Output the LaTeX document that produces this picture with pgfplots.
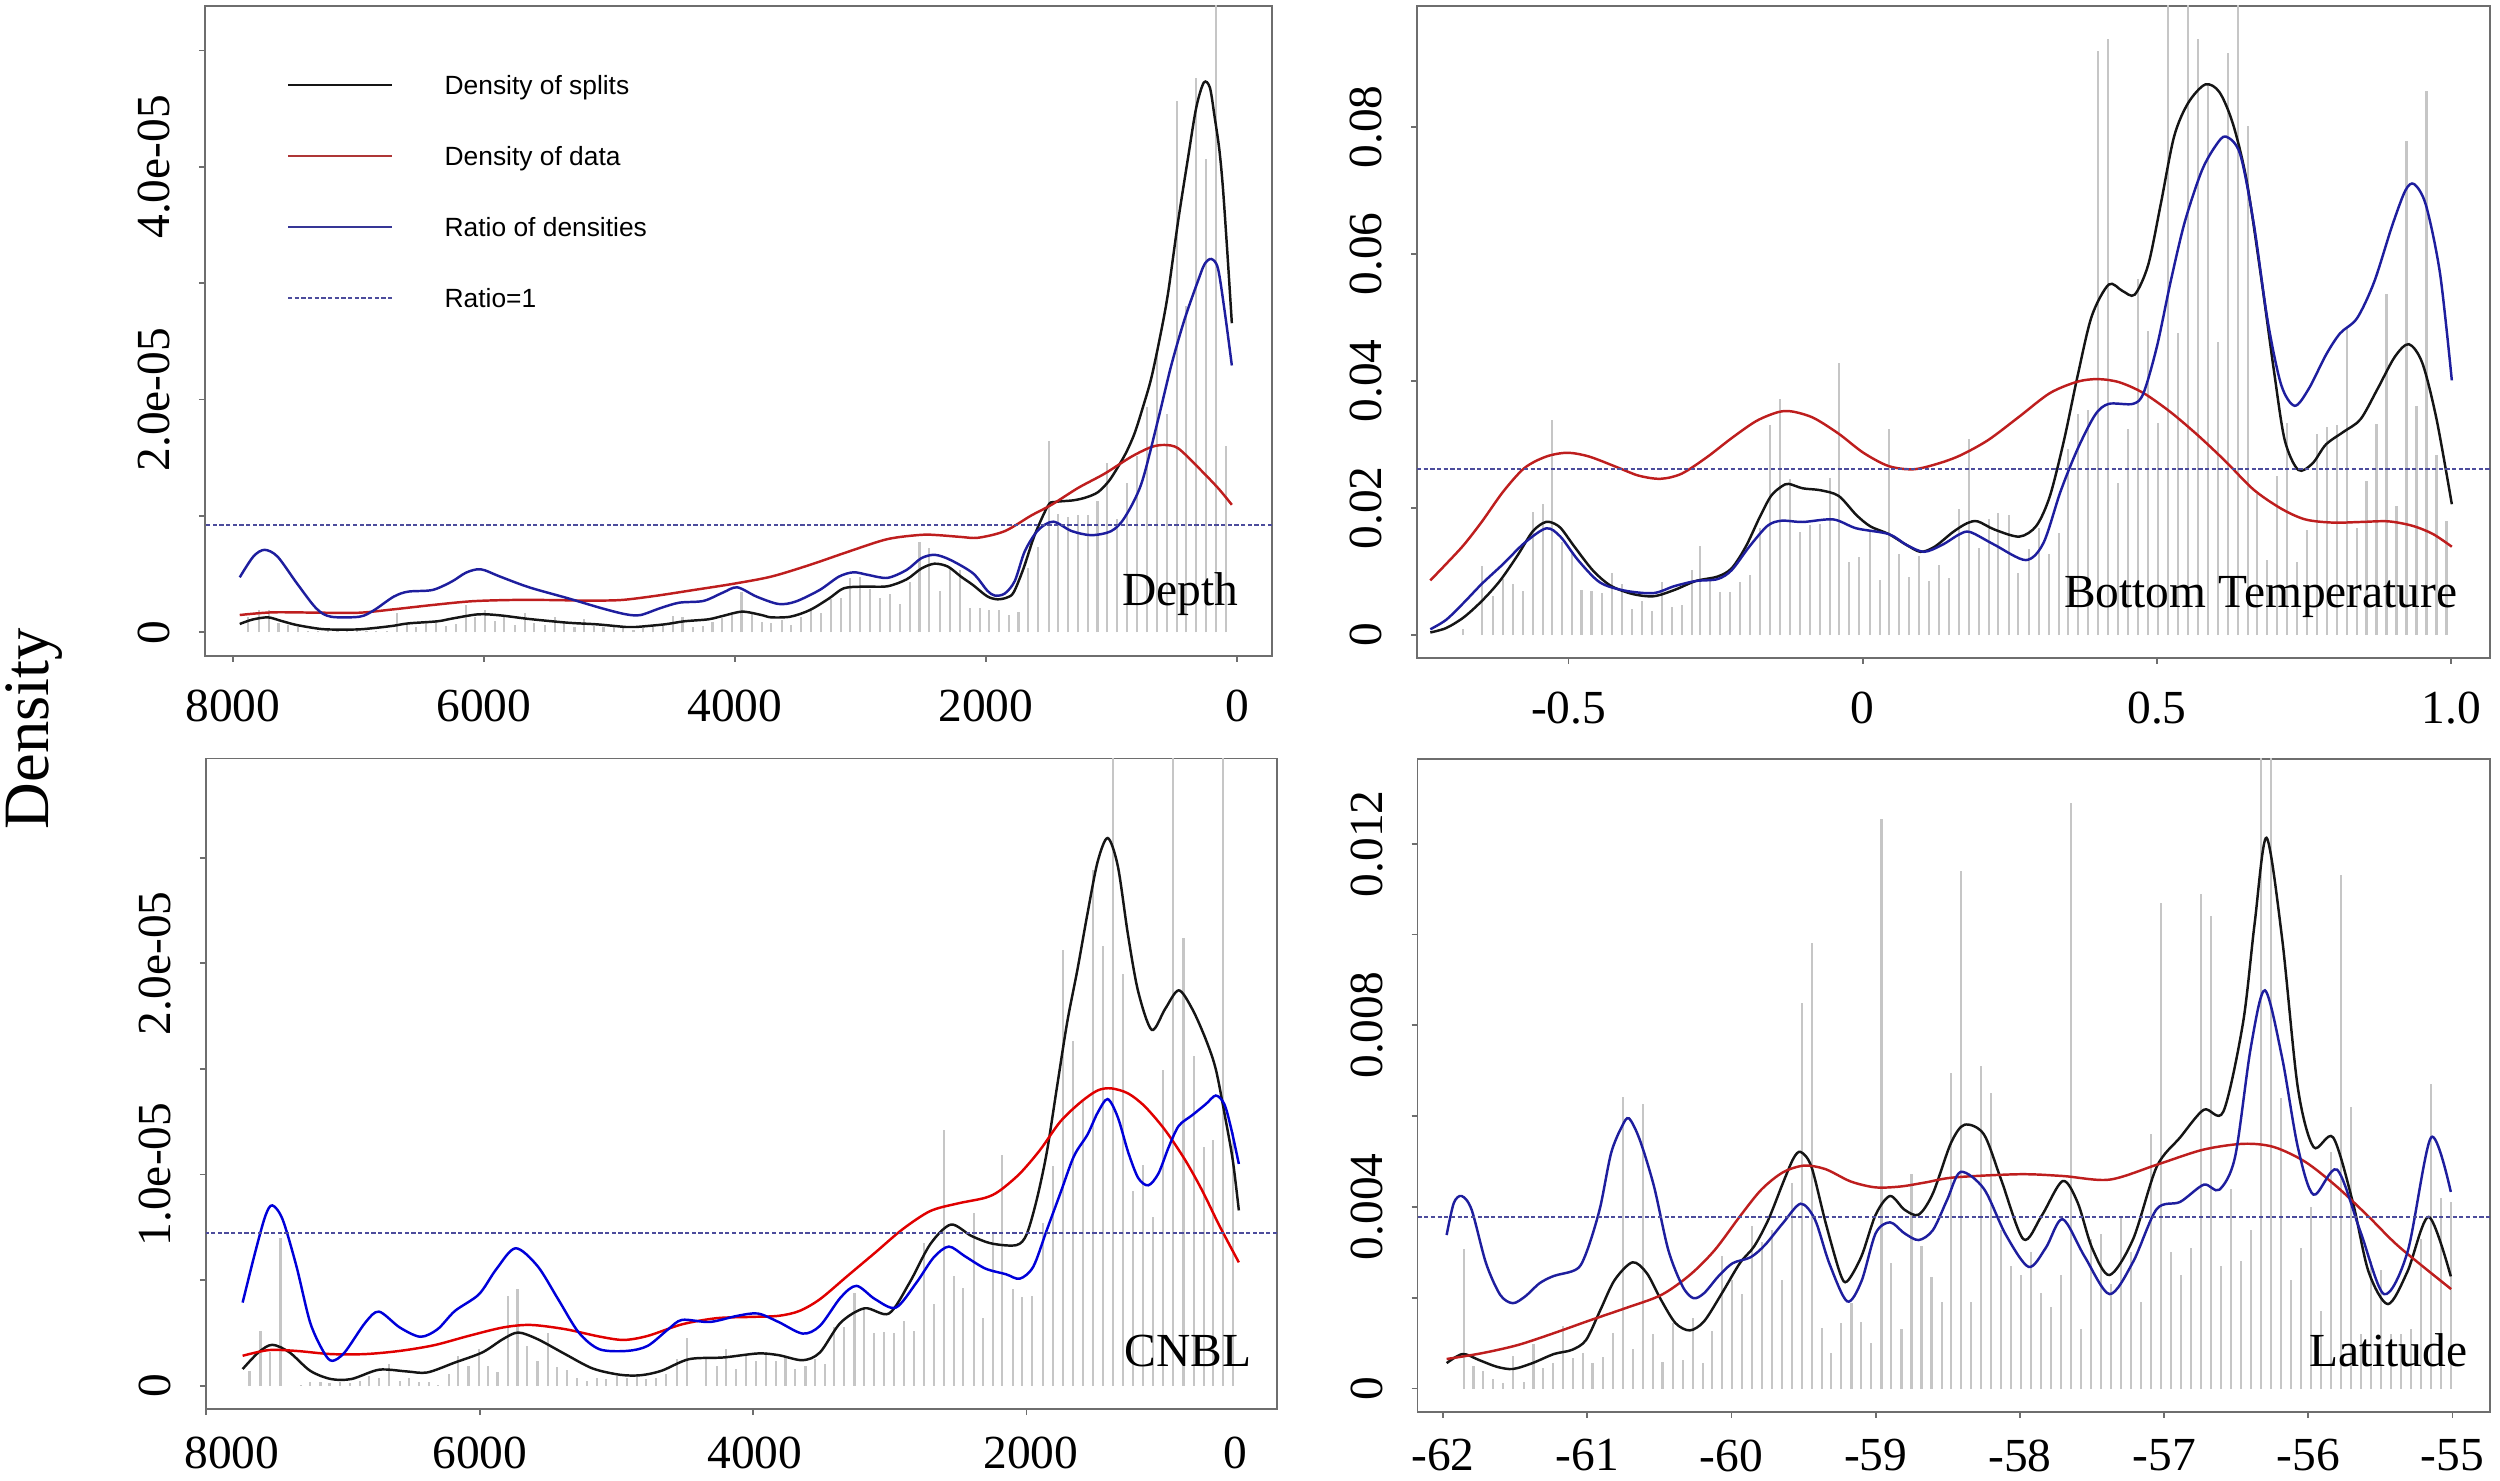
\documentclass[border=0pt]{standalone}
\usepackage{fontspec}
\setmainfont{Liberation Serif}
\newfontfamily\legendfont{Liberation Sans}
\usepackage{pgfplots}
\pgfplotsset{compat=1.18}

\definecolor{cblack}{HTML}{151515}
\definecolor{cred}{HTML}{BE1E1E}
\definecolor{cblue}{HTML}{1E1E9E}
\definecolor{cdash}{HTML}{4C4C9C}
\definecolor{lgray}{HTML}{C6C6C6}
\definecolor{boxgray}{HTML}{6E6E6E}

\pgfplotsset{
  dpanel/.style={
    scale only axis, anchor=south west,
    axis line style={draw=boxgray, line width=0.5pt},
    tick style={draw=boxgray, line width=0.5pt},
    tick align=outside, major tick length=0.6mm,
    xtick pos=bottom, ytick pos=left,
    ticklabel style={font=\fontsize{13.5}{16}\selectfont, inner sep=0pt},
    xticklabel shift=2.7mm,
    yticklabel style={rotate=90, anchor=south},
    yticklabel shift=2.8mm,
    scaled ticks=false,
  },
  lowrow/.style={xticklabel shift=2.1mm},
  grayh/.style={ycomb, draw=lgray, line width=0.6pt, mark=none, forget plot},
  kblack/.style={cblack, line width=0.7pt, smooth, mark=none},
  kred/.style={cred, line width=0.7pt, smooth, mark=none},
  kblue/.style={cblue, line width=0.7pt, smooth, mark=none},
  kdash/.style={cdash, line width=0.6pt, dash pattern=on 1.2pt off 0.7pt, mark=none},
}

\begin{document}
\begin{tikzpicture}
\path[use as bounding box] (0,0) rectangle (250mm,148mm);

% ---------------- Depth ----------------
\begin{axis}[dpanel, at={(20.5mm,82.4mm)}, width=106.7mm, height=65.03mm,
  x dir=reverse, xmin=-280, xmax=8223, ymin=-0.203, ymax=5.384,
  xtick={0,2000,4000,6000,8000}, xticklabels={0,2000,4000,6000,8000},
  ytick={0,1,2,3,4,5}, yticklabels={0,,2.0e-05,,4.0e-05,}]
\addplot[grayh] coordinates {
(7877,0.129)(7792,0.193)(7715,0.193)(7637,0.077)(7560,0.063)(7480,0.049)(7400,0.01)(7321,0.014)
(7244,0.02)(7167,0.026)(7090,0.014)(7013,0.02)(6936,0.014)(6859,0.014)(6774,0.014)(6693,0.163)
(6616,0.077)(6539,0.049)(6462,0.083)(6385,0.092)(6300,0.054)(6222,0.072)(6145,0.235)(6068,0.135)
(5991,0.192)(5914,0.101)(5837,0.135)(5752,0.063)(5675,0.169)(5598,0.083)(5513,0.063)(5436,0.129)
(5359,0.083)(5278,0.049)(5201,0.112)(5124,0.054)(5047,0.043)(4966,0.043)(4889,0.034)(4808,0.02)
(4730,0.034)(4653,0.049)(4572,0.054)(4495,0.14)(4418,0.129)(4333,0.049)(4256,0.057)(4179,0.092)
(4102,0.121)(4025,0.149)(3948,0.35)(3863,0.163)(3786,0.092)(3709,0.077)(3628,0.106)(3554,0.063)
(3473,0.135)(3396,0.192)(3311,0.163)(3234,0.284)(3157,0.293)(3080,0.465)(3003,0.479)(2926,0.370)
(2841,0.298)(2764,0.327)(2687,0.244)(2606,0.436)(2529,0.78)(2452,0.723)(2369,0.352)(2287,0.55)
(2207,0.534)(2127,0.207)(2048,0.207)(1973,0.189)(1897,0.189)(1817,0.152)(1740,0.171)(1663,0.552)
(1584,0.733)(1499,1.640)(1424,1.016)(1345,0.994)(1265,1.005)(1185,1.005)(1111,1.132)(1032,1.459)
(952,0.97)(875,1.285)(796,1.513)(716,1.938)(637,2.402)(560,1.876)(480,4.561)(403,2.801)
(324,4.76)(244,4.071)(164,6.5)(85,1.604)};
\addplot[kblack] coordinates {
(7946,0.072)(7845,0.11)(7722,0.129)(7620,0.1)(7491,0.063)(7298,0.029)(7150,0.024)(6990,0.026)
(6850,0.04)(6719,0.057)(6604,0.077)(6372,0.095)(6257,0.118)(6045,0.155)(5871,0.146)(5640,0.115)
(5331,0.083)(5100,0.069)(4868,0.046)(4791,0.046)(4560,0.069)(4405,0.095)(4213,0.112)(4097,0.141)
(3942,0.178)(3788,0.149)(3711,0.129)(3557,0.135)(3402,0.192)(3248,0.293)(3132,0.379)(2978,0.393)
(2785,0.396)(2631,0.456)(2515,0.548)(2410,0.59)(2303,0.565)(2200,0.48)(2102,0.406)(1990,0.31)
(1908,0.284)(1830,0.3)(1778,0.345)(1700,0.55)(1610,0.84)(1504,1.09)(1451,1.12)(1300,1.135)
(1200,1.16)(1106,1.205)(1020,1.3)(947,1.422)(880,1.55)(814,1.713)(750,1.93)(682,2.184)
(610,2.55)(549,2.91)(469,3.527)(390,4.071)(324,4.507)(263,4.724)(215,4.68)(178,4.434)
(140,4.15)(111,3.817)(75,3.25)(40,2.656)};
\addplot[kred] coordinates {
(7946,0.149)(7684,0.172)(7298,0.169)(6990,0.169)(6719,0.198)(6411,0.235)(6102,0.267)(5794,0.278)
(5485,0.278)(5177,0.273)(4907,0.278)(4637,0.313)(4328,0.364)(4020,0.416)(3711,0.479)(3402,0.58)
(3094,0.694)(2785,0.801)(2515,0.838)(2379,0.835)(2200,0.82)(2061,0.813)(1849,0.87)(1637,1.005)
(1477,1.096)(1265,1.241)(1053,1.364)(841,1.509)(682,1.592)(576,1.61)(469,1.582)(310,1.419)
(151,1.241)(40,1.096)};
\addplot[kblue] coordinates {
(7946,0.473)(7838,0.651)(7749,0.709)(7645,0.651)(7491,0.422)(7337,0.207)(7221,0.135)(6990,0.135)
(6874,0.192)(6719,0.307)(6604,0.35)(6411,0.364)(6257,0.436)(6141,0.514)(6025,0.542)(5871,0.479)
(5640,0.387)(5331,0.293)(5061,0.207)(4868,0.155)(4752,0.149)(4598,0.207)(4444,0.255)(4251,0.27)
(4097,0.341)(3981,0.387)(3827,0.307)(3653,0.244)(3518,0.264)(3325,0.364)(3171,0.479)(3055,0.516)
(2940,0.494)(2785,0.468)(2631,0.537)(2515,0.637)(2407,0.666)(2284,0.623)(2102,0.507)(1990,0.36)
(1928,0.316)(1849,0.334)(1769,0.443)(1690,0.697)(1584,0.878)(1464,0.951)(1318,0.871)(1159,0.835)
(1000,0.871)(894,0.987)(761,1.277)(629,1.822)(523,2.293)(416,2.692)(310,3.019)(257,3.164)
(204,3.208)(151,3.128)(98,2.765)(40,2.293)};
\addplot[kdash] coordinates {(-280,0.924)(8223,0.924)};
\end{axis}

% ---------------- Bottom Temperature ----------------
\begin{axis}[dpanel, at={(141.7mm,82.2mm)}, width=107.3mm, height=65.2mm,
  xmin=-0.7576, xmax=1.0659, ymin=-0.00362, ymax=0.09906,
  xtick={-0.5,0,0.5,1}, xticklabels={-0.5,0,0.5,1.0},
  ytick={0,0.02,0.04,0.06,0.08}, yticklabels={0,0.02,0.04,0.06,0.08}]
\addplot[grayh] coordinates {
(-0.679,0.0009)(-0.647,0.0108)(-0.629,0.0061)(-0.612,0.0088)(-0.595,0.0081)(-0.578,0.0069)(-0.561,0.0194)
(-0.544,0.0206)(-0.528,0.0339)(-0.511,0.0146)(-0.494,0.0132)(-0.478,0.0071)(-0.461,0.0069)(-0.443,0.0066)
(-0.426,0.0098)(-0.410,0.0081)(-0.393,0.0041)(-0.376,0.0054)(-0.359,0.0038)(-0.342,0.0083)(-0.325,0.0044)
(-0.308,0.0048)(-0.291,0.0103)(-0.276,0.014)(-0.259,0.0085)(-0.242,0.0067)(-0.225,0.0068)(-0.208,0.0083)
(-0.191,0.0095)(-0.174,0.0169)(-0.158,0.0331)(-0.141,0.0372)(-0.124,0.0246)(-0.107,0.0163)(-0.090,0.0173)
(-0.073,0.0175)(-0.056,0.0248)(-0.040,0.0429)(-0.023,0.0115)(-0.006,0.0123)(0.012,0.0165)(0.029,0.0087)
(0.045,0.0324)(0.062,0.0127)(0.079,0.0091)(0.095,0.0125)(0.112,0.0085)(0.129,0.011)(0.146,0.009)
(0.163,0.0199)(0.180,0.0309)(0.197,0.0137)(0.214,0.0182)(0.230,0.0192)(0.248,0.0189)(0.264,0.0098)
(0.282,0.0135)(0.300,0.0169)(0.316,0.0128)(0.333,0.0161)(0.349,0.0293)(0.366,0.0348)(0.383,0.0354)
(0.400,0.0920)(0.417,0.0938)(0.434,0.0240)(0.451,0.0324)(0.468,0.0561)(0.485,0.0478)(0.502,0.0334)
(0.519,0.11)(0.536,0.0475)(0.553,0.11)(0.569,0.0938)(0.586,0.0867)(0.603,0.0462)(0.620,0.0916)
(0.637,0.11)(0.654,0.0801)(0.670,0.0222)(0.687,0.0118)(0.704,0.0250)(0.721,0.0334)(0.738,0.0115)
(0.755,0.0165)(0.772,0.0317)(0.789,0.0327)(0.806,0.0330)(0.823,0.0485)(0.840,0.0168)(0.856,0.0242)
(0.873,0.0333)(0.890,0.0537)(0.907,0.0203)(0.924,0.0778)(0.941,0.0360)(0.958,0.0857)(0.975,0.0283)
(0.992,0.018)};
\addplot[kblack] coordinates {
(-0.735,0.0004)(-0.708,0.0011)(-0.678,0.0028)(-0.647,0.0054)(-0.617,0.0085)(-0.587,0.0125)(-0.562,0.0162)
(-0.544,0.0176)(-0.532,0.0178)(-0.514,0.0169)(-0.49,0.0139)(-0.459,0.0102)(-0.429,0.0078)(-0.393,0.0065)
(-0.356,0.0061)(-0.32,0.0071)(-0.284,0.0085)(-0.247,0.0092)(-0.223,0.0105)(-0.199,0.0139)(-0.175,0.0186)
(-0.156,0.0219)(-0.138,0.0234)(-0.126,0.0238)(-0.102,0.0231)(-0.072,0.0228)(-0.041,0.0219)(-0.011,0.0189)
(0.013,0.0171)(0.044,0.0159)(0.074,0.0142)(0.098,0.0131)(0.122,0.0139)(0.153,0.0162)(0.177,0.0176)
(0.195,0.0179)(0.224,0.0166)(0.266,0.0155)(0.295,0.0172)(0.318,0.0219)(0.342,0.0307)(0.365,0.0408)
(0.389,0.0502)(0.418,0.0552)(0.441,0.0542)(0.462,0.0536)(0.485,0.0583)(0.506,0.0677)(0.529,0.0785)
(0.553,0.0838)(0.582,0.0867)(0.606,0.0855)(0.629,0.0805)(0.652,0.0717)(0.676,0.0569)(0.699,0.0414)
(0.717,0.0307)(0.74,0.026)(0.764,0.027)(0.787,0.03)(0.817,0.032)(0.846,0.034)(0.875,0.0388)
(0.904,0.0438)(0.928,0.0458)(0.951,0.0428)(0.975,0.034)(1.001,0.0206)};
\addplot[kred] coordinates {
(-0.735,0.0086)(-0.708,0.0112)(-0.678,0.0142)(-0.647,0.0179)(-0.611,0.0226)(-0.575,0.0263)(-0.538,0.0281)
(-0.502,0.0287)(-0.465,0.0281)(-0.417,0.0264)(-0.381,0.0251)(-0.344,0.0246)(-0.308,0.0254)(-0.265,0.028)
(-0.223,0.031)(-0.181,0.0337)(-0.144,0.0351)(-0.12,0.0352)(-0.084,0.0342)(-0.041,0.0317)(0.001,0.0287)
(0.044,0.0266)(0.086,0.0261)(0.128,0.027)(0.166,0.0283)(0.213,0.0307)(0.266,0.0344)(0.318,0.0381)
(0.365,0.0399)(0.4,0.0403)(0.436,0.0398)(0.477,0.0381)(0.523,0.0351)(0.57,0.0314)(0.617,0.0273)
(0.664,0.0229)(0.711,0.0199)(0.752,0.0182)(0.799,0.0177)(0.846,0.0178)(0.893,0.0179)(0.934,0.0172)
(0.969,0.0159)(1.001,0.0139)};
\addplot[kblue] coordinates {
(-0.735,0.0009)(-0.708,0.0024)(-0.678,0.0051)(-0.647,0.0081)(-0.611,0.0112)(-0.575,0.0145)(-0.538,0.0168)
(-0.514,0.0155)(-0.484,0.0118)(-0.447,0.0083)(-0.405,0.007)(-0.356,0.0066)(-0.32,0.0077)(-0.284,0.0085)
(-0.247,0.0088)(-0.223,0.0102)(-0.193,0.0139)(-0.162,0.0172)(-0.138,0.018)(-0.102,0.0178)(-0.05,0.0182)
(-0.011,0.0168)(0.044,0.0159)(0.074,0.0142)(0.104,0.0131)(0.135,0.0142)(0.165,0.0159)(0.183,0.0162)
(0.224,0.0142)(0.277,0.0118)(0.307,0.0145)(0.336,0.0226)(0.365,0.0293)(0.395,0.0347)(0.418,0.0364)
(0.459,0.0364)(0.477,0.0381)(0.5,0.0455)(0.523,0.0556)(0.547,0.065)(0.576,0.0731)(0.6,0.0771)
(0.617,0.0785)(0.641,0.0758)(0.664,0.065)(0.688,0.0495)(0.711,0.0394)(0.734,0.0361)(0.758,0.0388)
(0.787,0.0441)(0.811,0.0475)(0.84,0.0499)(0.869,0.0556)(0.899,0.0643)(0.922,0.07)(0.937,0.071)
(0.957,0.0677)(0.981,0.0569)(1.001,0.0401)};
\addplot[kdash] coordinates {(-0.7576,0.0262)(1.0659,0.0262)};
\end{axis}

% ---------------- CNBL ----------------
\begin{axis}[dpanel, lowrow, at={(20.6mm,7.1mm)}, width=107.1mm, height=65.04mm,
  x dir=reverse, xmin=169, xmax=8001, ymin=-0.110, ymax=2.969,
  xtick={2000,4000,6000,8000}, xticklabels={,,,},
  extra x ticks={476,1968,3987,5998,7811}, extra x tick labels={0,2000,4000,6000,8000},
  extra x tick style={tick style={draw=none}},
  ytick={0,0.5,1,1.5,2,2.5}, yticklabels={0,,1.0e-05,,2.0e-05,}]
\addplot[grayh] coordinates {
(7683,0.071)(7602,0.260)(7532,0.158)(7456,0.701)(7305,0.003)(7239,0.016)(7164,0.019)(7098,0.011)
(7023,0.016)(6947,0.013)(6877,0.024)(6806,0.047)(6736,0.039)(6660,0.102)(6585,0.024)(6514,0.036)
(6443,0.016)(6368,0.016)(6302,0.003)(6227,0.055)(6156,0.142)(6081,0.095)(6005,0.173)(5940,0.095)
(5869,0.063)(5793,0.425)(5723,0.457)(5652,0.189)(5577,0.118)(5501,0.252)(5436,0.087)(5360,0.076)
(5290,0.039)(5214,0.024)(5144,0.035)(5073,0.032)(4997,0.047)(4922,0.039)(4851,0.055)(4781,0.032)
(4710,0.039)(4635,0.055)(4559,0.126)(4484,0.228)(4343,0.134)(4267,0.095)(4196,0.173)(4126,0.079)
(4050,0.150)(3980,0.118)(3904,0.158)(3834,0.118)(3763,0.142)(3693,0.079)(3617,0.095)(3547,0.126)
(3476,0.102)(3406,0.276)(3335,0.276)(3259,0.441)(3189,0.362)(3113,0.252)(3043,0.255)(2967,0.252)
(2897,0.307)(2821,0.260)(2751,0.677)(2675,0.386)(2605,1.213)(2534,0.520)(2464,0.465)(2388,0.819)
(2318,0.323)(2247,0.725)(2177,1.094)(2101,0.457)(2031,0.418)(1960,0.425)(1881,0.77)(1809,1.04)
(1735,2.065)(1664,1.63)(1590,1.353)(1515,2.44)(1441,2.08)(1370,3.2)(1296,1.947)(1222,0.922)
(1150,1.046)(1076,0.8)(1001,1.497)(927,3.2)(853,2.122)(779,1.562)(705,1.132)(636,1.165)
(562,3.2)(488,1.2)};
\addplot[kblack] coordinates {
(7733,0.079)(7617,0.158)(7516,0.194)(7390,0.158)(7239,0.071)(7088,0.032)(6937,0.032)(6736,0.076)
(6534,0.068)(6383,0.063)(6181,0.11)(5980,0.158)(5829,0.221)(5718,0.252)(5577,0.221)(5375,0.15)
(5174,0.082)(4972,0.052)(4821,0.05)(4670,0.071)(4468,0.126)(4217,0.134)(3965,0.153)(3814,0.145)
(3637,0.121)(3511,0.158)(3360,0.299)(3184,0.367)(3007,0.342)(2856,0.488)(2705,0.67)(2554,0.763)
(2403,0.709)(2252,0.673)(2074,0.666)(2000,0.717)(1926,0.881)(1852,1.107)(1778,1.414)(1703,1.722)
(1629,1.968)(1555,2.235)(1481,2.48)(1407,2.593)(1333,2.46)(1258,2.132)(1184,1.866)(1085,1.685)
(987,1.784)(888,1.872)(789,1.784)(690,1.64)(616,1.497)(542,1.25)(492,1.066)(448,0.83)};
\addplot[kred, color=red!88!black] coordinates {
(7733,0.142)(7542,0.169)(7340,0.165)(7088,0.15)(6836,0.15)(6584,0.165)(6333,0.192)(6081,0.236)
(5829,0.276)(5627,0.288)(5375,0.268)(5124,0.233)(4947,0.217)(4771,0.236)(4519,0.291)(4267,0.32)
(4015,0.326)(3814,0.331)(3662,0.354)(3511,0.41)(3310,0.52)(3108,0.63)(2907,0.741)(2705,0.827)
(2504,0.863)(2302,0.89)(2198,0.923)(2049,1.005)(1901,1.117)(1753,1.251)(1604,1.343)(1481,1.398)
(1382,1.408)(1258,1.384)(1135,1.322)(987,1.21)(838,1.066)(715,0.923)(591,0.759)(448,0.584)};
\addplot[kblue, color=blue!85!black] coordinates {
(7733,0.394)(7642,0.63)(7567,0.804)(7516,0.854)(7441,0.788)(7340,0.567)(7239,0.299)(7139,0.158)
(7078,0.118)(6987,0.158)(6836,0.299)(6736,0.351)(6584,0.276)(6433,0.232)(6307,0.268)(6181,0.354)
(6005,0.433)(5879,0.551)(5738,0.651)(5577,0.567)(5426,0.41)(5275,0.252)(5124,0.173)(4922,0.165)
(4771,0.189)(4620,0.268)(4519,0.312)(4317,0.302)(4116,0.331)(3965,0.342)(3814,0.302)(3637,0.247)
(3511,0.284)(3360,0.418)(3244,0.473)(3108,0.41)(2957,0.37)(2806,0.488)(2680,0.607)(2569,0.659)
(2453,0.614)(2302,0.555)(2151,0.528)(2050,0.507)(1951,0.564)(1852,0.738)(1753,0.912)(1654,1.087)
(1555,1.189)(1481,1.292)(1407,1.357)(1333,1.271)(1258,1.107)(1184,0.984)(1110,0.949)(1036,1.005)
(962,1.128)(888,1.23)(789,1.281)(690,1.333)(616,1.374)(554,1.333)(505,1.22)(448,1.05)};
\addplot[kdash] coordinates {(169,0.724)(8001,0.724)};
\end{axis}

% ---------------- Latitude ----------------
\begin{axis}[dpanel, lowrow, at={(141.75mm,6.82mm)}, width=107.25mm, height=65.31mm,
  xmin=-62.177, xmax=-54.74, ymin=-0.000513, ymax=0.013872,
  xtick={-62,-61,-60,-59,-58,-57,-56,-55}, xticklabels={-62,-61,-60,-59,-58,-57,-56,-55},
  ytick={0,0.002,0.004,0.006,0.008,0.010,0.012}, yticklabels={0,,0.004,,0.008,,0.012}]
\addplot[grayh] coordinates {
(-61.856,0.00307)(-61.789,0.0005)(-61.72,0.00039)(-61.653,0.0002)(-61.583,0.00013)(-61.512,0.00072)
(-61.44,0.00015)(-61.373,0.00098)(-61.306,0.00046)(-61.236,0.00056)(-61.167,0.00138)(-61.097,0.00068)
(-61.028,0.00078)(-60.964,0.00057)(-60.892,0.0007)(-60.823,0.00123)(-60.753,0.00643)(-60.684,0.00088)
(-60.614,0.00627)(-60.547,0.00119)(-60.478,0.00059)(-60.408,0.00144)(-60.339,0.00062)(-60.269,0.00155)
(-60.2,0.00056)(-60.133,0.00126)(-60.063,0.00292)(-59.994,0.00239)(-59.925,0.00208)(-59.855,0.00358)
(-59.786,0.00323)(-59.719,0.00349)(-59.65,0.00239)(-59.58,0.00452)(-59.511,0.00849)(-59.441,0.00981)
(-59.372,0.00133)(-59.307,0.00078)(-59.238,0.00145)(-59.168,0.00188)(-59.099,0.00147)(-59.03,0.001)
(-58.96,0.01255)(-58.891,0.00276)(-58.821,0.00131)(-58.752,0.00472)(-58.682,0.00314)(-58.613,0.00245)
(-58.543,0.0019)(-58.476,0.00696)(-58.407,0.0114)(-58.338,0.0019)(-58.269,0.0071)(-58.199,0.0065)
(-58.13,0.0035)(-58.06,0.0027)(-57.991,0.0025)(-57.922,0.0030)(-57.852,0.0021)(-57.783,0.0018)
(-57.714,0.0025)(-57.645,0.0129)(-57.576,0.0013)(-57.506,0.0033)(-57.437,0.0034)(-57.368,0.0023)
(-57.298,0.0038)(-57.229,0.0030)(-57.16,0.0019)(-57.091,0.0056)(-57.021,0.0107)(-56.952,0.0030)
(-56.883,0.0025)(-56.814,0.0031)(-56.744,0.0109)(-56.675,0.0104)(-56.606,0.0027)(-56.536,0.0044)
(-56.467,0.0028)(-56.398,0.0035)(-56.329,0.015)(-56.259,0.015)(-56.19,0.0064)(-56.121,0.0024)
(-56.052,0.0031)(-55.982,0.0040)(-55.913,0.0017)(-55.844,0.0052)(-55.775,0.0113)(-55.705,0.0062)
(-55.636,0.0012)(-55.567,0.0028)(-55.498,0.0026)(-55.428,0.0012)(-55.359,0.0012)(-55.29,0.0013)
(-55.221,0.0033)(-55.151,0.0067)(-55.082,0.0042)(-55.013,0.0041)};
\addplot[kblack] coordinates {
(-61.975,0.00056)(-61.864,0.00076)(-61.752,0.00063)(-61.628,0.00048)(-61.516,0.00043)(-61.38,0.00056)
(-61.231,0.00076)(-61.107,0.00085)(-61.008,0.00107)(-60.909,0.00173)(-60.81,0.00239)(-60.686,0.00278)
(-60.587,0.00254)(-60.488,0.00195)(-60.388,0.00144)(-60.289,0.00128)(-60.19,0.00148)(-60.066,0.0021)
(-59.942,0.00276)(-59.843,0.00313)(-59.744,0.00372)(-59.644,0.00452)(-59.57,0.00507)(-59.52,0.00521)
(-59.446,0.00489)(-59.347,0.00365)(-59.247,0.00254)(-59.198,0.00236)(-59.099,0.00291)(-59.0,0.00383)
(-58.9,0.00424)(-58.801,0.00394)(-58.702,0.00383)(-58.603,0.0043)(-58.479,0.0054)(-58.384,0.00581)
(-58.25,0.0056)(-58.13,0.0046)(-57.976,0.00329)(-57.85,0.0038)(-57.704,0.00457)(-57.6,0.0041)
(-57.5,0.0031)(-57.378,0.0025)(-57.215,0.00329)(-57.052,0.00488)(-56.889,0.00553)(-56.725,0.00614)
(-56.589,0.0061)(-56.453,0.00805)(-56.372,0.01025)(-56.29,0.01213)(-56.182,0.00992)(-56.073,0.00663)
(-55.964,0.00532)(-55.828,0.00553)(-55.692,0.00411)(-55.583,0.00258)(-55.448,0.00186)(-55.312,0.00258)
(-55.165,0.00378)(-55.012,0.00247)};
\addplot[kred] coordinates {
(-61.975,0.00065)(-61.727,0.00078)(-61.479,0.00096)(-61.231,0.00122)(-60.983,0.0015)(-60.735,0.00177)
(-60.487,0.00206)(-60.289,0.0025)(-60.116,0.00305)(-59.942,0.00379)(-59.793,0.00438)(-59.644,0.00476)
(-59.496,0.00491)(-59.347,0.00483)(-59.173,0.00456)(-59.0,0.00443)(-58.826,0.00445)(-58.653,0.00454)
(-58.454,0.00465)(-58.0,0.00472)(-57.7,0.00468)(-57.38,0.0046)(-57.05,0.00493)(-56.73,0.00526)
(-56.45,0.00539)(-56.24,0.00532)(-56.02,0.00499)(-55.8,0.00444)(-55.58,0.00378)(-55.37,0.00312)
(-55.01,0.00219)};
\addplot[kblue] coordinates {
(-61.975,0.00338)(-61.926,0.00408)(-61.871,0.00424)(-61.802,0.00394)(-61.702,0.00276)(-61.603,0.00206)
(-61.516,0.00188)(-61.43,0.00203)(-61.33,0.00232)(-61.231,0.00248)(-61.107,0.00258)(-61.045,0.00272)
(-60.983,0.0032)(-60.909,0.00401)(-60.835,0.00518)(-60.76,0.00577)(-60.711,0.00595)(-60.636,0.00548)
(-60.537,0.00445)(-60.438,0.00305)(-60.339,0.00225)(-60.264,0.00199)(-60.19,0.0021)(-60.091,0.00247)
(-59.992,0.00276)(-59.868,0.00289)(-59.768,0.00316)(-59.644,0.00364)(-59.52,0.00407)(-59.421,0.00372)
(-59.322,0.00276)(-59.198,0.00192)(-59.099,0.00236)(-59.0,0.00342)(-58.9,0.00366)(-58.801,0.00342)
(-58.702,0.00327)(-58.603,0.00349)(-58.504,0.00416)(-58.411,0.00477)(-58.25,0.0044)(-58.1,0.0034)
(-57.94,0.00268)(-57.82,0.0031)(-57.704,0.00373)(-57.55,0.0029)(-57.378,0.00208)(-57.215,0.00279)
(-57.052,0.00395)(-56.889,0.00411)(-56.725,0.00449)(-56.617,0.00438)(-56.508,0.0051)(-56.399,0.00751)
(-56.301,0.00877)(-56.182,0.00729)(-56.073,0.00532)(-55.964,0.00427)(-55.801,0.00482)(-55.638,0.00345)
(-55.475,0.00208)(-55.312,0.00301)(-55.149,0.00553)(-55.012,0.00433)};
\addplot[kdash] coordinates {(-62.177,0.00378)(-54.74,0.00378)};
\end{axis}

% ---------------- labels ----------------
\node[rotate=90, inner sep=0pt, font=\fontsize{18.4}{22}\selectfont] at (3.45mm,75.15mm) {Density};
\begin{scope}[every node/.style={anchor=base east, inner sep=0pt, font=\fontsize{13.5}{16}\selectfont}]
\node at (123.9mm,87.4mm) {Depth};
\node at (245.8mm,87.2mm) {Bottom Temperature};
\node at (125.2mm,11.4mm) {CNBL};
\node at (246.8mm,11.4mm) {Latitude};
\end{scope}

% legend of the first panel
\begin{scope}[every node/.style={anchor=base west, inner sep=0pt, font=\legendfont\fontsize{7.5}{9}\selectfont}]
\draw[cblack, line width=0.6pt] (28.8mm,139.5mm) -- (39.2mm,139.5mm);
\node at (44.4mm,138.55mm) {Density of splits};
\draw[cred!75!gray, line width=0.6pt] (28.8mm,132.4mm) -- (39.2mm,132.4mm);
\node at (44.4mm,131.45mm) {Density of data};
\draw[cblue!75!gray, line width=0.6pt] (28.8mm,125.3mm) -- (39.2mm,125.3mm);
\node at (44.4mm,124.35mm) {Ratio of densities};
\draw[cdash, line width=0.6pt, dash pattern=on 1.2pt off 0.7pt] (28.8mm,118.2mm) -- (39.2mm,118.2mm);
\node at (44.4mm,117.25mm) {Ratio=1};
\end{scope}
\end{tikzpicture}
\end{document}
